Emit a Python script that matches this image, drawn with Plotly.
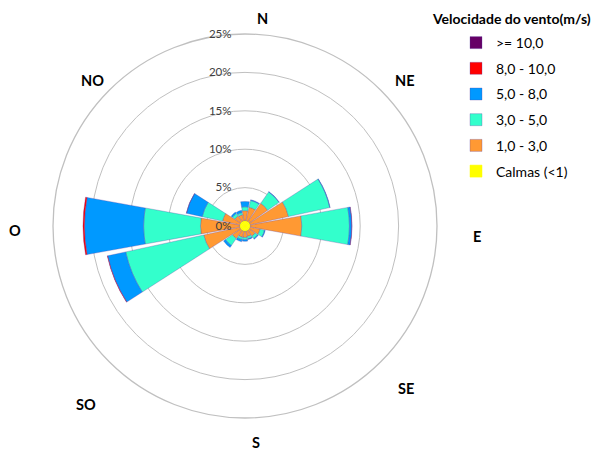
import numpy as np
import plotly.graph_objects as go

directions = ["N", "NNE", "NE", "ENE", "E", "ESE", "SE", "SSE",
              "S", "SSW", "SW", "WSW", "W", "WNW", "NW", "NNW"]
calmas = [0.7] * 16
v1_3 = [1.3, 1.8, 2.9, 5.1, 6.7, 1.3, 0.9, 0.7, 0.8, 0.8, 1.3, 4.8, 5.1, 2.3, 0.9, 0.8]
v3_5 = [0.5, 0.9, 1.8, 5.5, 6.2, 0.6, 0.4, 0.3, 0.3, 0.3, 1.1, 10.4, 7.4, 2.7, 0.4, 0.3]
v5_8 = [0.7, 0.1, 0.05, 0.05, 0.3, 0.1, 0.1, 0.1, 0.2, 0.3, 0.3, 2.4, 7.7, 2.1, 0.2, 0.3]
v8_10 = [0, 0, 0, 0, 0.03, 0, 0, 0, 0, 0, 0, 0.05, 0.2, 0.02, 0, 0]
v10 = [0] * 16

series_names = ["Calmas (<1)", "1,0 - 3,0", "3,0 - 5,0", "5,0 - 8,0", "8,0 - 10,0", ">= 10,0"]
series_vals = [calmas, v1_3, v3_5, v5_8, v8_10, v10]
series_colors = ["#FFFF00", "#FF9933", "#33FFCC", "#0099FF", "#FF0000", "#660066"]

compass_labels = ["N", "NE", "E", "SE", "S", "SO", "O", "NO"]
label_px = [(262, 18), (405, 80), (477, 236), (406, 388), (256, 442), (86, 404), (15, 230), (92, 80)]

W, H = 601, 451
angles = np.arange(len(directions)) * 360.0 / len(directions)

fig = go.Figure()
for i, (name, vals, col) in enumerate(zip(series_names, series_vals, series_colors)):
    fig.add_trace(go.Barpolar(
        r=vals, theta=angles, name=name,
        width=22.5 if i == 0 else 20.5,
        marker=dict(color=col,
                    line=dict(color="rgba(90,60,160,0.6)" if i > 0 else col, width=0.5)),
        legendgroup=name,
        legendrank=100 - i,
        hoverinfo="skip",
    ))

cx, cy, R = 245, 226, 192
fig.update_layout(
    width=W, height=H,
    margin=dict(l=0, r=0, t=0, b=0),
    paper_bgcolor="white", plot_bgcolor="white",
    font=dict(family="Lato, Noto Sans, sans-serif", color="#000000"),
    polar=dict(
        domain=dict(x=[(cx - R) / W, (cx + R) / W], y=[1 - (cy + R) / H, 1 - (cy - R) / H]),
        bgcolor="white",
        barmode="stack",
        radialaxis=dict(range=[0, 25], dtick=5, ticksuffix="%", showline=False,
                        gridcolor="#C0C0C0", gridwidth=1.3,
                        ticks="outside", ticklen=9, tickcolor="rgba(0,0,0,0)",
                        tickfont=dict(size=11.5, color="#404040"),
                        angle=90, tickangle=90, side="counterclockwise"),
        angularaxis=dict(rotation=90, direction="clockwise", showgrid=False,
                         showticklabels=False, ticks="", showline=True,
                         linecolor="#C0C0C0", linewidth=1.3),
    ),
    showlegend=True,
    legend=dict(x=456 / W, y=1 - 27 / H, xanchor="left", yanchor="top",
                traceorder="grouped", tracegroupgap=4.5,
                font=dict(size=14, color="#000000"), itemwidth=30,
                bgcolor="rgba(0,0,0,0)"),
)

for lab, (px, py) in zip(compass_labels, label_px):
    fig.add_annotation(text="<b>%s</b>" % lab, x=px / W, y=1 - py / H, xref="paper", yref="paper",
                       showarrow=False, font=dict(size=14.5, color="#000000"),
                       xanchor="center", yanchor="middle")

fig.add_annotation(text="<b>Velocidade do vento(m/s)</b>", x=511 / W, y=1 - 18 / H,
                   xref="paper", yref="paper", showarrow=False,
                   font=dict(size=14, color="#000000"), xanchor="center", yanchor="middle")

fig.write_html("out.html", config={"displayModeBar": False},
               post_script="document.body.style.margin='0';document.body.style.padding='0';")
